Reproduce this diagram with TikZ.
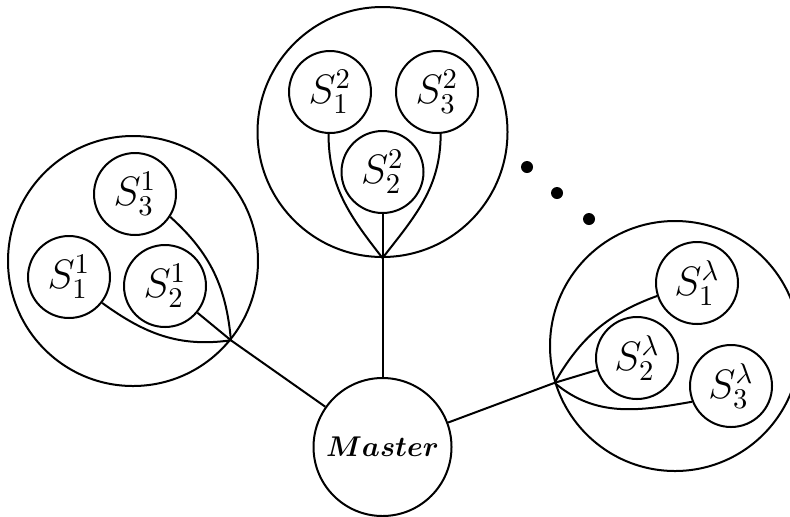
\documentclass[tikz,border=0pt]{standalone}
\usepackage{amsmath}
\usepackage{bm}
\begin{document}
\begin{tikzpicture}[x=0.35pt,y=-0.35pt,line width=0.7pt,
  group/.style={draw,circle,minimum size=87.5pt,inner sep=0pt},
  slave/.style={draw,circle,minimum size=28.7pt,inner sep=0pt,font=\Large},
  master/.style={draw,circle,minimum size=48.3pt,inner sep=0pt},
  dot/.style={circle,fill=black,minimum size=4.2pt,inner sep=0pt}]
\useasboundingbox (0,0) rectangle (790,516);

% master node
\node[master] (m) at (382.5,447) {$\bm{Master}$};

% group 1
\node[group] (g1) at (133,261) {};
\node[slave] (s11) at (69,277) {$S_1^1$};
\node[slave] (s21) at (165,286) {$S_2^1$};
\node[slave] (s31) at (135,194) {$S_3^1$};
\coordinate (j1) at (g1.-39);
\draw (s11.-38) to[out=-36,in=188] (j1);
\draw (s31.-33) to[out=-42,in=95] (j1);
\draw (s21) -- (j1);
\draw (j1) -- (m);

% group 2
\node[group] (g2) at (382.5,132) {};
\node[slave] (s12) at (330,92) {$S_1^2$};
\node[slave] (s22) at (382.5,172) {$S_2^2$};
\node[slave] (s32) at (437,92) {$S_3^2$};
\coordinate (j2) at (g2.-90);
\draw (s12.-92) to[out=-90,in=128] (j2);
\draw (s32.-85) to[out=-90,in=52] (j2);
\draw (s22) -- (j2);
\draw (j2) -- (m);

% group lambda
\node[group] (g3) at (675,346) {};
\node[slave] (s1l) at (697,283) {$S_1^\lambda$};
\node[slave] (s2l) at (637,358) {$S_2^\lambda$};
\node[slave] (s3l) at (731,386) {$S_3^\lambda$};
\coordinate (j3) at (g3.-163);
\draw (s1l.198) to[out=200,in=60] (j3);
\draw (s3l.202) to[out=190,in=-40] (j3);
\draw (s2l) -- (j3);
\draw (j3) -- (m);

% ellipsis dots
\node[dot] (d1) at (527,167) {};
\node[dot] (d2) at (557,193) {};
\node[dot] (d3) at (589,219) {};
\end{tikzpicture}
\end{document}
